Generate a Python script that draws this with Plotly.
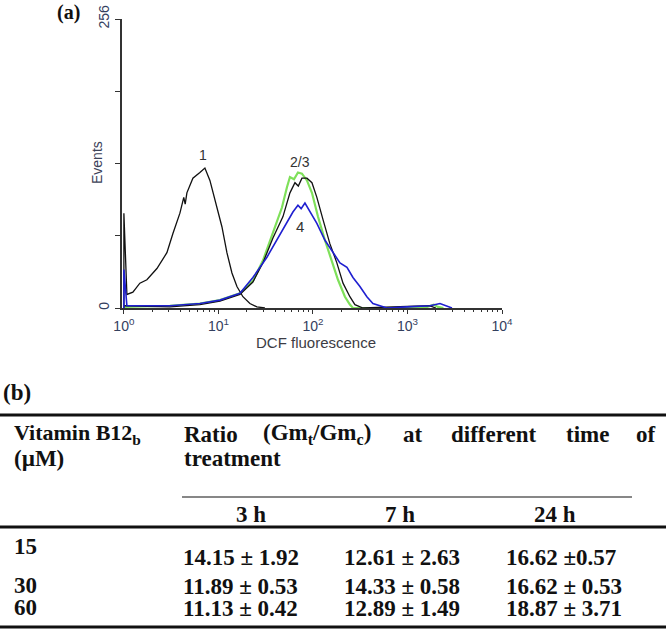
"""DCF fluorescence histogram (a) + ratio table (b)."""
import plotly.graph_objects as go

W, H = 666, 631

# ── (a) histogram data: DCF fluorescence (log scale) vs events ────────────
C1_X = [1.0, 1.0, 1.076, 1.245, 1.476, 1.751, 2.235, 2.851, 3.301, 3.914, 4.3,
        4.45, 4.641, 5.370, 6.368, 7.194, 8.128, 9.183, 10.89, 12.30, 13.90,
        15.70, 18.16, 21.53, 25.53, 31.0]
C1_Y = [0, 84, 12, 14, 22, 25, 35, 49, 66, 84, 98, 92, 102, 115, 120, 124, 113,
        96, 72, 49, 31, 19, 10, 4, 1, 0]

C2_X = [1.0, 3.07, 6.37, 10.37, 16.89, 23.17, 29.58, 37.74, 48.2, 57.1, 64.5,
        70.0, 76.5, 86.4, 97.6, 110, 128, 151, 179, 208, 246, 278, 338, 900,
        1700, 2000]
C2_Y = [2, 1, 3, 6, 12, 23, 40, 62, 81, 102, 111, 108, 115, 115, 111, 98, 78,
        57, 40, 22, 10, 3, 0, 1, 2, 0]

C3_X = [1.0, 3.07, 6.37, 10.37, 16.89, 23.17, 29.58, 37.74, 46.99, 53.09, 57.1,
        63.0, 69.4, 76.5, 86.4, 97.6, 113, 134, 159, 184, 218, 246, 265, 1500,
        1900, 2100, 2400]
C3_Y = [1, 2, 4, 7, 13, 24, 42, 66, 89, 107, 116, 114, 120, 119, 113, 102, 81,
        60, 42, 25, 10, 3, 0, 0, 3, 1, 0]

C4_X = [1.0, 1.0, 1.076, 3.07, 6.37, 10.37, 16.89, 23.17, 32.6, 41.6, 53.1, 61.4,
        69.4, 75.0, 82.3, 93.0, 110, 134, 163, 193, 229, 265, 314, 372, 431, 512,
        607, 988, 1730, 2208, 2618, 2957]
C4_Y = [0, 34, 2, 2, 4, 7, 13, 27, 45, 60, 75, 85, 91, 88, 93, 85, 75, 60, 49,
        40, 36, 27, 19, 10, 4, 2, 0, 1, 2, 4, 2, 0]

Y_TICKS = [0, 64, 128, 192, 256]
X_DECADES = [1, 10, 100, 1000, 10000]

# ── (b) table data ────────────────────────────────────────────────────────
CONC = [15, 30, 60]
TIMES = ["3 h", "7 h", "24 h"]
MEAN = [[14.15, 12.61, 16.62],
        [11.89, 14.33, 16.62],
        [11.13, 12.89, 18.87]]
SD = [[1.92, 2.63, 0.57],
      [0.53, 0.58, 0.53],
      [0.42, 1.49, 3.71]]

SERIF = "Liberation Serif, Times New Roman, serif"
SANS = "Arial, Liberation Sans, sans-serif"
TICK_COLOR = "#34405e"
FS = 23


def px(x):
    return x / W


def py(y):
    return 1 - y / H


def _txt(x, y, text, size=FS, anchor="left", family=SERIF, color="#111", **kw):
    return dict(xref="paper", yref="paper", x=px(x), y=py(y), text=text,
                showarrow=False, xanchor=anchor, yanchor="middle",
                borderpad=0,
                font=dict(family=family, size=size, color=color), **kw)


def _hline(y, x0, x1, width):
    return dict(type="line", xref="paper", yref="paper",
                x0=px(x0), x1=px(x1), y0=py(y), y1=py(y),
                line=dict(color="#111", width=width))


fig = go.Figure()
for xs, ys, color, width in [
    (C3_X, C3_Y, "#7fe05a", 2.2),
    (C2_X, C2_Y, "#111111", 1.3),
    (C1_X, C1_Y, "#111111", 1.3),
    (C4_X, C4_Y, "#1f1fd0", 1.6),
]:
    fig.add_trace(go.Scatter(x=xs, y=ys, mode="lines",
                             line=dict(color=color, width=width),
                             showlegend=False, hoverinfo="skip"))

minor_vals = [d * k for d in X_DECADES[:-1] for k in range(2, 10)]

anns = [
    _txt(68, 12, "<b>(a)</b>", size=20, anchor="center"),
    _txt(97, 163, "Events", size=14, anchor="center", family=SANS,
         color="#3c4258", textangle=-90),
    _txt(316, 342, "DCF fluorescence", size=15, anchor="center", family=SANS,
         color="#3c3c44"),
    _txt(203, 155, "1", size=14, anchor="center", family=SANS, color="#333"),
    _txt(300, 162, "2/3", size=14, anchor="center", family=SANS, color="#333"),
    _txt(300, 226, "4", size=15, anchor="center", family=SANS, color="#333"),
    _txt(2, 393, "<b>(b)</b>"),
    _txt(13, 434, "<b>Vitamin B12<sub>b</sub></b>", size=22),
    _txt(13, 458, "<b>(µM)</b>"),
    _txt(183, 458, "<b>treatment</b>"),
]
for x, word in zip([183, 262, 402, 450, 565, 635],
                   ["Ratio", "(Gm<sub>t</sub>/Gm<sub>c</sub>)", "at",
                    "different", "time", "of"]):
    anns.append(_txt(x, 434, f"<b>{word}</b>"))
for x, t in zip([251, 400, 555], TIMES):
    anns.append(_txt(x, 514, f"<b>{t}</b>", anchor="center"))

label_y = [546, 585, 607]
value_y = [557, 586, 608]
col_x = [182, 343, 505]
for i, c in enumerate(CONC):
    anns.append(_txt(13, label_y[i], f"<b>{c}</b>"))
    for j in range(len(TIMES)):
        sep = "±" if (i, j) == (0, 2) else "± "
        anns.append(_txt(col_x[j], value_y[i],
                         f"<b>{MEAN[i][j]:.2f} {sep}{SD[i][j]:.2f}</b>"))

shapes = [
    _hline(415, 0, 666, 3),
    _hline(497, 182, 632, 1.2),
    _hline(527, 0, 666, 3),
    _hline(627, 0, 666, 3),
]

fig.update_layout(
    width=W, height=H, autosize=False,
    margin=dict(l=0, r=0, t=0, b=0),
    paper_bgcolor="white", plot_bgcolor="white",
    xaxis=dict(
        type="log", range=[-0.02, 4], domain=[px(122), px(502)],
        automargin=False,
        tickvals=X_DECADES,
        ticktext=["10<sup>0</sup>", "10<sup>1</sup>", "10<sup>2</sup>",
                  "10<sup>3</sup>", "10<sup>4</sup>"],
        tickfont=dict(family=SANS, size=14, color=TICK_COLOR),
        ticks="outside", ticklen=4, tickcolor="#333",
        minor=dict(tickvals=minor_vals, ticks="outside", ticklen=2,
                   tickcolor="#333", showgrid=False),
        showline=True, linecolor="#333", linewidth=2,
        showgrid=False, zeroline=False,
    ),
    yaxis=dict(
        range=[0, 256], domain=[py(308), py(19)],
        automargin=False,
        tickvals=Y_TICKS, ticktext=["0", "", "", "", "256"],
        tickangle=-90,
        tickfont=dict(family=SANS, size=14, color=TICK_COLOR),
        ticks="outside", ticklen=5, tickcolor="#333",
        showline=True, linecolor="#333", linewidth=2,
        showgrid=False, zeroline=False,
    ),
    annotations=anns,
    shapes=shapes,
)

# page body has a default 8px margin; drop it so the figure sits at 0,0
fig.write_html("out.html", config={"displayModeBar": False},
               post_script="document.body.style.margin='0';")
